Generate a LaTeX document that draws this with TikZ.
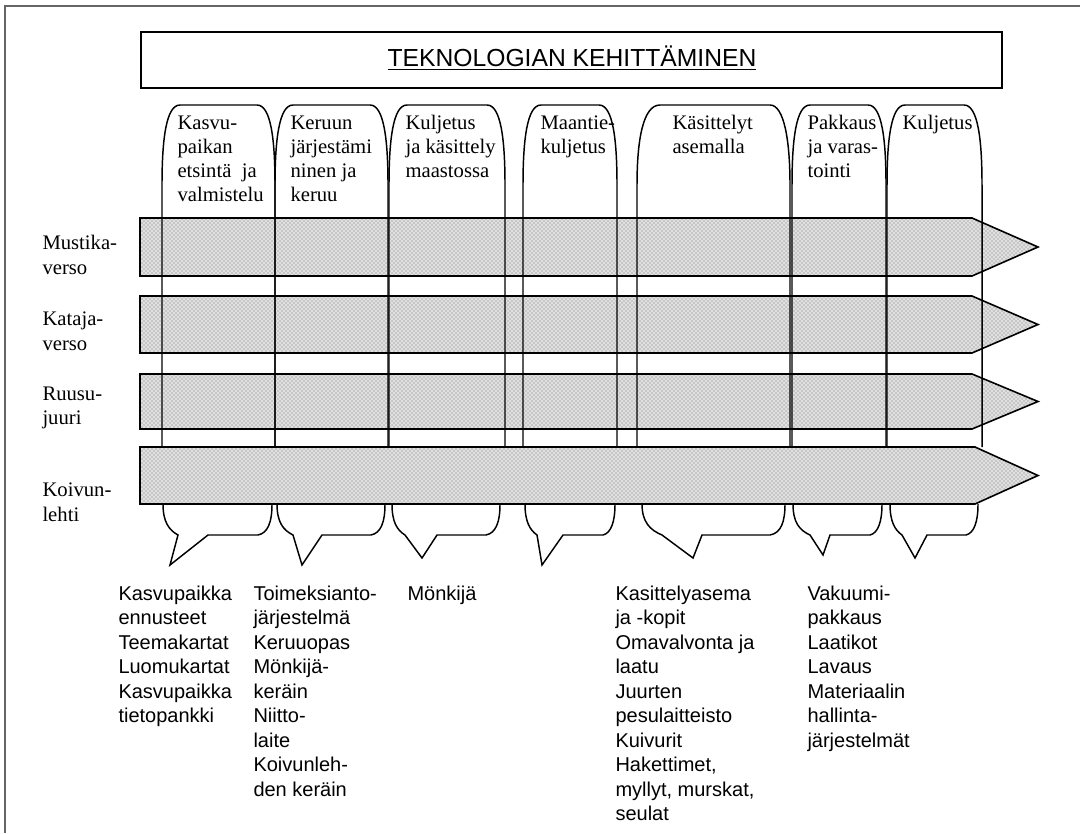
\documentclass[tikz,border=0pt]{standalone}
\usepackage{fontspec}
\setmainfont{Liberation Serif}
\setsansfont{Liberation Sans}
\usetikzlibrary{patterns}

\tikzset{every picture/.style={line width=0.75pt}}
\tikzset{
  stagebar/.style={line width=1.2pt, preaction={fill=black!12}, pattern=crosshatch dots, pattern color=black!55},
  stagetab/.style={line width=1.1pt},
  stagecall/.style={line width=1.1pt},
  headtext/.style={anchor=north west, inner sep=0pt, align=left, font=\fontsize{15.5}{18}\selectfont},
  rowtext/.style={anchor=west, inner sep=0pt, align=left, font=\fontsize{15.5}{18.5}\selectfont},
  tooltext/.style={anchor=north west, inner sep=0pt, align=left, font=\sffamily\fontsize{15}{18.4}\selectfont},
}

\begin{document}
\begin{tikzpicture}[x=0.75pt,y=0.75pt,yscale=-1,xscale=1]
	\useasboundingbox (0,0) rectangle (1080,833);

	%Frame
	\draw [black!60, line width=1.2pt] (5,833) -- (5,6) -- (1080,6) ;
	%Shape: Rectangle [title]
	\draw [line width=1.5pt] (141,32) rectangle (1002,88) ;

	%Shape: Arrow [Mustikaverso]
	\draw [stagebar] (140,218) -- (972,218) -- (1038,247) -- (972,276) -- (140,276) -- cycle ;
	%Shape: Arrow [Katajaverso]
	\draw [stagebar] (140,296) -- (972,296) -- (1038,324.5) -- (972,353) -- (140,353) -- cycle ;
	%Shape: Arrow [Ruusujuuri]
	\draw [stagebar] (140,374) -- (972,374) -- (1038,401.5) -- (972,429) -- (140,429) -- cycle ;

	%Shape: Tab 1
	\draw [stagetab] (162,447) -- (162,185) .. controls (162,140) and (166,105) .. (180,105) -- (257,105) .. controls (271,105) and (275,140) .. (275,185) -- (275,447) ;
	%Shape: Tab 2
	\draw [stagetab] (275,447) -- (275,185) .. controls (275,140) and (279,105) .. (293,105) -- (370,105) .. controls (384,105) and (388,140) .. (388,185) -- (388,447) ;
	%Shape: Tab 3
	\draw [stagetab] (389,447) -- (389,185) .. controls (389,140) and (393,105) .. (407,105) -- (487,105) .. controls (501,105) and (505,140) .. (505,185) -- (505,447) ;
	%Shape: Tab 4
	\draw [stagetab] (523,447) -- (523,185) .. controls (523,140) and (527,105) .. (541,105) -- (599,105) .. controls (613,105) and (617,140) .. (617,185) -- (617,447) ;
	%Shape: Tab 5
	\draw [stagetab] (637,447) -- (637,185) .. controls (637,140) and (643,105) .. (660,105) -- (770,105) .. controls (784,105) and (790,140) .. (790,185) -- (790,447) ;
	%Shape: Tab 6
	\draw [stagetab] (792,447) -- (792,185) .. controls (792,140) and (796,105) .. (810,105) -- (868,105) .. controls (882,105) and (886,140) .. (886,185) -- (886,447) ;
	%Shape: Tab 7
	\draw [stagetab] (887,447) -- (887,185) .. controls (887,140) and (891,105) .. (905,105) -- (964,105) .. controls (978,105) and (982,140) .. (982,185) -- (982,447) ;

	%Shape: Arrow [Koivunlehti]
	\draw [stagebar] (140,447) -- (975,447) -- (1038,475.5) -- (975,504) -- (140,504) -- cycle ;

	%Shape: Callout 1
	\draw [stagecall] (163,504) .. controls (163,522) and (169,530) .. (178,535) -- (170,565) -- (208,535) -- (258,535) .. controls (268,533) and (272,522) .. (272,504) ;
	%Shape: Callout 2
	\draw [stagecall] (277,504) .. controls (277,522) and (283,530) .. (293,535) -- (302,565) -- (322,535) -- (371,535) .. controls (381,533) and (385,522) .. (385,504) ;
	%Shape: Callout 3
	\draw [stagecall] (392,504) .. controls (392,522) and (397,530) .. (405,535) -- (422,558) -- (437,535) -- (486,535) .. controls (496,533) and (500,522) .. (500,504) ;
	%Shape: Callout 4
	\draw [stagecall] (525,504) .. controls (525,522) and (530,530) .. (537,535) -- (542,565) -- (563,535) -- (603,535) .. controls (611,533) and (615,522) .. (615,504) ;
	%Shape: Callout 5
	\draw [stagecall] (642,504) .. controls (642,522) and (650,530) .. (662,535) -- (693,558) -- (702,535) -- (770,535) .. controls (781,533) and (785,522) .. (785,504) ;
	%Shape: Callout 6
	\draw [stagecall] (793,504) .. controls (793,522) and (799,530) .. (810,535) -- (823,555) -- (830,535) -- (870,535) .. controls (878,533) and (882,522) .. (882,504) ;
	%Shape: Callout 7
	\draw [stagecall] (890,504) .. controls (890,522) and (895,530) .. (902,535) -- (915,558) -- (927,535) -- (966,535) .. controls (974,533) and (978,522) .. (978,504) ;

	% Text Node
	\draw (572,58) node [font=\sffamily\fontsize{18.5}{20}\selectfont] (title) {\underline{TEKNOLOGIAN KEHITTÄMINEN}};

	% Text Node
	\draw (42,255) node [rowtext] (mustika) {Mustika-\\verso};
	% Text Node
	\draw (42,331) node [rowtext] (kataja) {Kataja-\\verso};
	% Text Node
	\draw (42,408) node [rowtext] (ruusu) {Ruusu-\\juuri};
	% Text Node
	\draw (42,502) node [rowtext] (koivu) {Koivun-\\lehti};

	% Text Node
	\draw (177,115) node [headtext] (kasvu) {Kasvu-\\paikan\\etsintä\ \ ja\\valmistelu};
	% Text Node
	\draw (290,115) node [headtext] (keruu) {Keruun\\järjestämi\\ninen ja\\keruu};
	% Text Node
	\draw (405,115) node [headtext] (maasto) {Kuljetus\\ja käsittely\\maastossa};
	% Text Node
	\draw (540,115) node [headtext] (maantie) {Maantie-\\kuljetus};
	% Text Node
	\draw (672,115) node [headtext] (asema) {Käsittelyt\\asemalla};
	% Text Node
	\draw (807,115) node [headtext] (pakkaus) {Pakkaus\\ja varas-\\tointi};
	% Text Node
	\draw (902,115) node [headtext] (kuljetus) {Kuljetus};

	% Text Node
	\draw (118,585) node [tooltext] (tools1) {Kasvupaikka\\ennusteet\\Teemakartat\\Luomukartat\\Kasvupaikka\\tietopankki};
	% Text Node
	\draw (253,585) node [tooltext] (tools2) {Toimeksianto-\\järjestelmä\\Keruuopas\\Mönkijä-\\keräin\\Niitto-\\laite\\Koivunleh-\\den keräin};
	% Text Node
	\draw (407,585) node [tooltext] (tools3) {Mönkijä};
	% Text Node
	\draw (615,585) node [tooltext] (tools5) {Kasittelyasema\\ja -kopit\\Omavalvonta ja\\laatu\\Juurten\\pesulaitteisto\\Kuivurit\\Hakettimet,\\myllyt, murskat,\\seulat};
	% Text Node
	\draw (807,585) node [tooltext] (tools6) {Vakuumi-\\pakkaus\\Laatikot\\Lavaus\\Materiaalin\\hallinta-\\järjestelmät};

\end{tikzpicture}
\end{document}
